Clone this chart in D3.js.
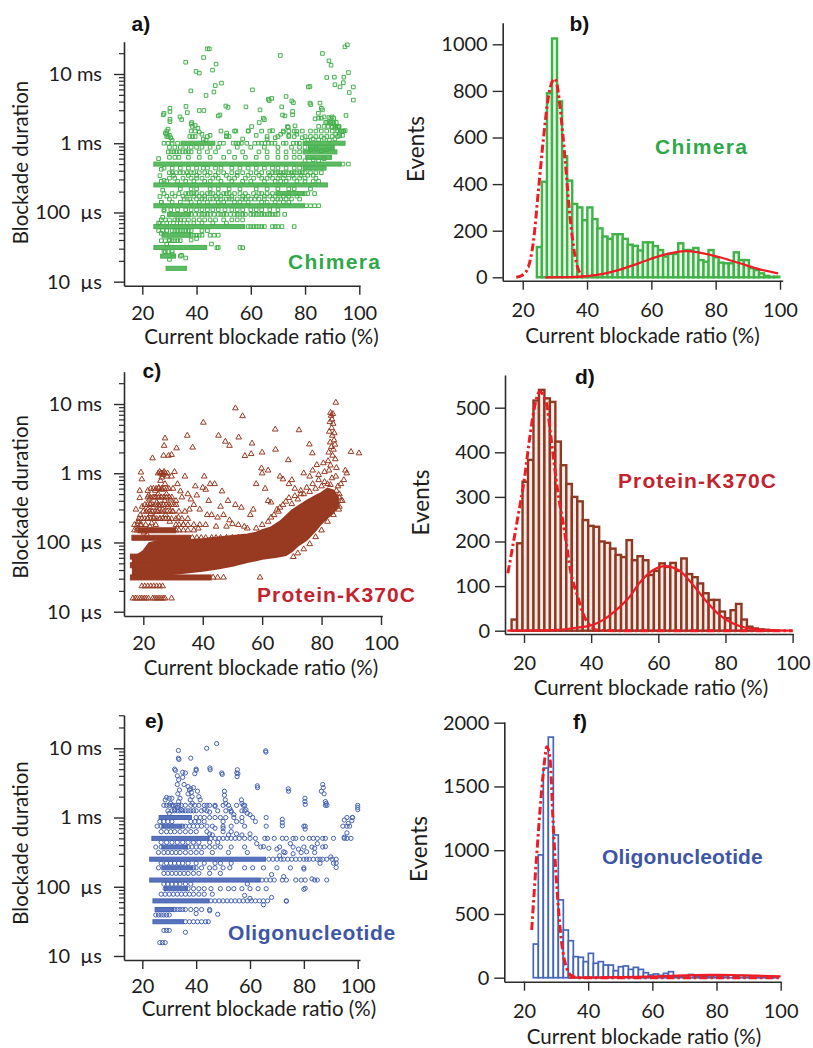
<!DOCTYPE html>
<html lang="en">
<head>
<meta charset="utf-8">
<title>Blockade duration and current blockade ratio</title>
<script src="https://d3js.org/d3.v7.min.js"></script>
<style>
  body { margin: 0; background: white; }
  svg { display: block; background: white; }
  .tick-label { font-family: Lato, sans-serif; font-size: 20px; fill: #1c1c1c; }
  .axis-title { font-family: Lato, sans-serif; font-size: 20.5px; fill: #1c1c1c; }
  .panel-letter { font-family: "Liberation Sans", Arial, sans-serif; font-weight: bold; font-size: 21px; fill: #111; }
  .sample { font-family: "Liberation Sans", Arial, sans-serif; font-weight: bold; font-size: 21px; }
</style>
</head>
<body>
<script>
// ---------- shared tick labels ----------
var xTickValues = [20, 40, 60, 80, 100];
var logTickValues = [10, 100, 1000, 10000];
var logTickLabels = ["10\u00a0 µs", "100\u00a0 µs", "1 ms", "10 ms"];

// ---------- a) Chimera scatter (duration in µs) ----------
var chimeraRuns = [
  [1000, 35, 46], [1000, 80, 94], [875, 82, 90], [750, 80, 91], [625, 81, 89], [500, 25, 92.5], [437.5, 80, 87],
  [250, 25, 87.5], [187.5, 70, 79], [125, 25, 79], [93.75, 30, 37], [62.5, 25, 57], [46.9, 28, 37],
  [31.25, 25, 43], [23.4, 27.5, 31.5], [15.6, 29.5, 35.5]
];
var chimeraRows = [
  [2000, [88, 89.5, 90.5, 91.5]],
  [1750, [38.5, 85, 87, 88.5, 90, 91, 92.5]],
  [1500, [29, 38, 39.5, 49, 54, 59, 64, 67, 72, 74, 76, 79, 82, 84, 86, 88, 90, 92, 94]],
  [1250, [29, 29.5, 37.5, 38.5, 39.5, 44, 52, 66, 70, 74, 76, 80, 82, 84, 86, 88, 90, 92]],
  [1000, [28, 29.5, 31, 33, 48.6, 49.9, 53.5, 54.5, 55.5, 56.5, 58.5, 61.5, 62.8, 64, 65.2, 66.5, 67.7, 68.9, 72, 73, 75.7, 76.9, 77.9]],
  [875, [30, 32, 34, 36, 38, 40, 42, 45, 48, 55, 60, 65, 70, 75, 78, 80]],
  [750, [29.6, 30.6, 31.6, 32.6, 33.6, 35, 36, 37, 38, 41, 44, 47, 52, 57, 63, 66, 70, 73, 76, 78]],
  [625, [30, 32, 33.5, 37, 41, 45, 50, 54, 58, 62, 66, 70, 73, 76, 78]],
  [500, [94, 96]],
  [437.5, [28, 31, 34, 37, 40, 42.5, 44, 47, 49, 53, 56, 59, 62, 65, 68, 70, 73, 76, 78]],
  [375, [30, 31, 32.5, 34, 35, 36.5, 38, 39, 41, 43, 45, 48, 50, 53, 55, 57, 60, 62, 64, 66.5, 68, 69, 70, 71, 72, 73, 74, 75, 76, 77, 78, 79, 80, 82, 84, 86]],
  [343.75, [31.5, 37, 40, 44, 47, 51, 55, 59, 63, 67, 70.5, 72.5, 75.5, 78.5, 81, 83]],
  [312.5, [30, 32, 35, 38, 40, 42, 46, 48, 52, 54, 58, 61, 64, 66, 68, 70, 72, 74, 76, 78, 80, 84]],
  [281.25, [27, 29, 33, 36, 39, 43, 45, 49, 53, 57, 60, 65, 69, 71, 73, 77, 80, 83, 85]],
  [218.75, [34, 38, 40, 45, 48, 52, 56, 62, 66, 70, 74, 76, 82]],
  [187.5, [28, 31, 33.5, 36, 37, 38, 39, 40, 42, 44, 45, 46, 48, 50, 51, 52, 54, 56, 58, 61, 63, 64, 66, 68, 80, 81, 83.5]],
  [171.9, [29, 32, 35, 39, 41, 43, 47, 49, 53, 57, 59, 62, 65, 67, 69, 72, 74, 77]],
  [156.25, [30, 35.5, 36.5, 37.5, 40, 42, 43, 45, 46, 47.5, 49, 51, 52, 53, 55, 57, 58, 60, 61.5, 63, 65, 68, 70, 71, 73, 75, 78]],
  [140.6, [27, 31, 34, 38, 41, 44, 48, 50, 54, 56, 59, 64, 66, 69, 72, 74]],
  [125, [80.5, 82, 83.5, 85]],
  [109.4, [28, 30.5, 33, 36, 38, 40, 42, 44, 46, 48, 50.5, 53, 55, 57, 60, 62, 64, 67, 70]],
  [93.75, [38, 39.5, 41, 42, 43, 44, 45, 46.5, 48, 49, 50, 51, 52.5, 54, 55, 56, 57, 58, 60, 61, 62, 63, 64, 65, 66, 67, 68, 69, 70, 72.5]],
  [78.1, [27, 28.5, 30, 32, 33, 34, 35.5, 37, 39, 41, 43, 45, 47, 50, 53, 55, 57]],
  [70.3, [26, 29, 31.5, 34, 36.5, 39, 42, 46, 51]],
  [62.5, [59, 60, 61, 62, 63, 64, 65, 68, 69, 70, 71.5, 76]],
  [54.7, [26, 27.5, 29, 31, 32, 33, 34, 35, 36, 37, 38, 42, 44]],
  [46.9, [38, 39, 40, 41, 42, 45, 46.5, 48]],
  [39.1, [27, 28.5, 30, 31, 32, 33, 34]],
  [31.25, [48, 56]],
  [27.3, [28, 29.5, 31]],
  [23.4, [34]]
];
var chimeraPoints = [
  [44, 23100], [44.7, 23100], [36, 14800], [42.6, 17300], [39.8, 10900], [41, 10300], [45.9, 11400], [47.2, 13900],
  [37.9, 5700], [43.5, 4900], [46.4, 5500], [46.9, 6800], [49.2, 7400], [70.9, 18500], [86.4, 19800], [88.8, 15500],
  [89.6, 13400], [94.7, 24700], [95.6, 26400], [96, 10500], [94.3, 9000], [90.8, 9000], [88, 8900], [94.1, 7500],
  [92.9, 6500], [96.3, 5400], [97.8, 6500], [97.8, 4200], [60.6, 5900], [81.8, 6600], [81.2, 6500], [91, 7000],
  [27.7, 2570], [28, 2700], [30.2, 3200], [30.2, 2870], [30.2, 2220], [30.2, 2050], [34.5, 2200], [33.9, 2400],
  [36.1, 3400], [36.6, 2770], [38.2, 1990], [41, 2970], [42.7, 2970], [48, 2480], [48.6, 2560], [51.1, 1400],
  [51.1, 1280], [50.8, 3450], [51.6, 3300], [58.2, 3350], [59.1, 1510], [60.3, 1740], [63.4, 3030], [63.1, 1990],
  [64.6, 2300], [65, 2190], [66.5, 4330], [66.8, 4140], [67.7, 4440], [68, 1520], [71.4, 3350], [71.7, 2560],
  [72.6, 2480], [73, 4730], [73.5, 1740], [73.8, 1700], [75.1, 4080], [75.7, 3860], [75.4, 2870], [75.4, 2570],
  [76.3, 1780], [76.9, 1480], [81.8, 3800], [82.1, 3620], [83.7, 2250], [84.9, 2710], [85.5, 3800], [86, 3200],
  [86.4, 3030], [85, 2300], [86, 2300], [87, 2400], [88.8, 2350], [89.5, 2300], [90, 2400], [90.6, 2300],
  [87.6, 2000], [88.8, 1950], [89.6, 2000], [90.6, 1900], [90, 1700], [91.3, 1650], [91.9, 1700], [92.5, 1720],
  [93, 1500], [93.6, 1480], [94.2, 1500], [94.8, 1520], [91.3, 1350], [93.8, 1300], [92.8, 1280], [95.1, 2520],
  [28.5, 1400], [29, 1350], [29.5, 1600], [30, 1300], [30.5, 1200], [31, 1100], [38, 1900], [39.5, 1800],
  [40.5, 1650], [41, 1450], [42, 1350], [42.5, 1150], [43.5, 1100], [45, 1300], [51, 1250], [54.5, 1500],
  [57, 1150], [62, 1300], [66, 1150], [69, 1200], [71, 1350], [72, 1450], [74, 1300], [77, 1350], [79, 1200],
  [26, 600], [26.5, 340], [27, 420], [28, 290], [27.5, 210], [26.5, 170], [27, 140], [28, 105], [27.5, 85],
  [26.5, 70], [29, 55], [27, 50], [30, 40], [29, 35], [28.5, 27], [30, 21], [31, 25], [34.5, 24], [36, 22],
  [38, 40], [40, 42], [45.5, 35], [47.5, 31], [57, 31], [81, 1100], [83, 1150], [85, 1120], [87, 1180], [89, 1100],
  [91, 1150], [82, 800], [84, 820], [86, 780], [88, 800], [90, 830], [80, 560], [83, 580], [85, 560], [87, 600]
];

// ---------- b) Chimera histogram ----------
var chimeraBinStart = 24.4, chimeraBinWidth = 1.57;
var chimeraBins = [130, 410, 790, 1025, 755, 520, 415, 315, 300, 245, 300, 250, 210, 175, 165, 185, 185, 165, 140, 135,
  115, 150, 150, 134, 117, 89, 100, 100, 146, 117, 117, 126, 74, 67, 117, 86, 63, 60, 60, 107, 74, 74, 39, 31, 17, 6, 2, 3];
var chimeraFitFirst = [[18, 0], [20, 10], [21.7, 43], [23.3, 150], [24.9, 375], [26.4, 589], [28, 775], [29, 835],
  [30, 852], [31, 800], [31.6, 732], [33.2, 503], [34.7, 260], [36.3, 88], [37.8, 17], [39, 0]];
var chimeraFitSecond = [[27, 0], [35, 1], [40, 5], [45, 15], [50, 32], [54, 50], [58, 70], [62.7, 92], [67, 106],
  [71, 112], [75, 106], [81.3, 86], [87.5, 60], [93.7, 34], [99.4, 17]];

// ---------- c) Protein-K370C scatter ----------
var k370CoreUpper = [[16.5, 62], [18, 66], [20, 75], [22, 98], [25, 105], [30, 105], [35, 108], [40, 112], [45, 118],
  [50, 124], [55, 130], [58, 138], [60, 150], [63, 165], [66, 200], [68, 240], [70, 290], [72, 330], [75, 400],
  [78, 470], [80, 520], [82, 600], [84, 560], [85.5, 450]];
var k370CoreLower = [[16.5, 31], [20, 31], [25, 33], [30, 35], [40, 39], [45, 42], [50, 46], [55, 52], [60, 58],
  [65, 62], [68, 66], [70, 75], [72, 90], [75, 110], [78, 150], [80, 190], [82, 230], [84, 270], [85.5, 330]];
var k370Runs = [[31.25, 16.5, 42], [46.9, 16.5, 24], [62.5, 16.5, 21], [117, 17, 35], [150, 19, 30]];
var k370Rows = [
  [1000, [25, 25.8, 26.6, 27.4, 28.2]],
  [600, [22.5, 23.4, 24.3, 25.2, 26.1, 27, 27.9]],
  [450, [21.5, 22.4, 23.3, 24.2, 25.1, 26, 26.9, 27.8, 28.7, 29.6]],
  [350, [20.5, 21.4, 22.3, 23.2, 24.1, 25, 25.9, 26.8, 27.7, 28.6, 29.5, 31]],
  [280, [20, 21, 22, 23, 24, 25, 26, 27, 28, 29, 30, 32, 34]],
  [220, [18.5, 19.5, 20.5, 21.5, 22.5, 23.5, 24.5, 25.5, 26.5, 27.5, 28.5, 29.5, 31, 33, 35]],
  [180, [17, 18, 19, 31, 32, 33.5, 35, 37, 39, 41]],
  [150, [17, 18, 31, 32, 33.5, 35, 37]],
  [117, [36.5, 38, 39.5, 41, 43, 44.5, 46, 48, 50, 52, 54, 56]],
  [31.25, [43.5, 45, 47, 59.3]],
  [23.4, [19.5, 20.5, 21.5, 22.5, 23.5, 24.5, 25.5, 26.5]],
  [15.6, [16.5, 17.3, 18, 18.8, 19.5, 20.3, 21, 21.7, 23.2, 23.9, 24.6, 25.3, 26, 26.7, 27.3, 29.5]]
];
var k370Points = [
  [17.5, 300], [18, 160], [18.2, 200], [18.8, 440], [18.8, 560], [19.2, 1030], [19.5, 820], [19.6, 330], [19, 250],
  [19.4, 180], [20.2, 140], [20.8, 180], [21.2, 130], [21.4, 220], [21.5, 560], [21.6, 300], [21.8, 480], [22, 420],
  [22.2, 170], [22.3, 360], [22.5, 260], [22.8, 190], [23, 150], [23.1, 1650], [23.3, 320], [23.6, 230], [23.8, 450],
  [24, 560], [24.2, 180], [24.5, 380], [24.7, 280], [25, 500], [25.2, 620], [25.5, 1050], [25.4, 340], [25.7, 220],
  [25.8, 780], [26, 1000], [26.1, 450], [26.3, 580], [26.5, 950], [26.2, 870], [26.6, 300], [26.8, 1800], [27, 1050],
  [27, 2500], [27.3, 3200], [27.3, 700], [27.2, 400], [27.5, 250], [27.8, 500], [28, 900], [28.3, 330], [28.5, 1800],
  [28.6, 600], [28.9, 200], [29.2, 420], [29.5, 1850], [29.5, 900], [29.8, 280], [30, 600], [30.3, 350], [30.5, 1050],
  [31, 400], [31.2, 2300], [31.5, 700], [31.8, 230], [32.5, 550], [33, 450], [33.5, 180], [34, 900], [34.8, 3500],
  [35, 500], [35.5, 300], [36, 420], [36.6, 2360], [37, 350], [37.5, 650], [38, 480], [38.5, 160], [39, 300],
  [40, 620], [40.2, 5400], [40.5, 900], [41, 580], [41.5, 250], [42, 400], [42.5, 700], [43, 250], [44, 700],
  [44.5, 170], [45, 230], [45.3, 3500], [46, 330], [46.5, 550], [47, 250], [47.6, 2870], [48, 170], [48.5, 400],
  [49, 2500], [49, 210], [50, 185], [51, 8700], [51, 350], [52, 180], [52.1, 3300], [53, 320], [53.4, 6700],
  [54, 170], [54.2, 1780], [55, 160], [56, 250], [56.3, 1900], [56.6, 2700], [57, 300], [58, 700], [59.8, 1180],
  [60, 2000], [60, 1000], [61, 600], [62, 1100], [62, 400], [63, 380], [64.4, 4300], [64.5, 2200], [65, 300],
  [66, 900], [67, 820], [68.8, 1550], [69, 700], [70, 800], [71, 600], [72.4, 4200], [73, 500], [74, 1000],
  [75.9, 2620], [76, 900], [76.9, 1950], [77, 1100], [78.4, 1320], [79, 950], [80.6, 1400], [81, 1050],
  [58, 160], [60, 180], [62, 200], [63, 230], [64, 250], [65.5, 280], [66, 320], [67, 350], [68, 390], [69, 440],
  [70, 360], [71, 470], [72, 420], [73, 560], [74, 500], [75, 620], [76, 540], [77, 700], [78, 600], [79, 800],
  [80, 650], [81, 750], [82, 700], [83, 680], [85, 560], [86, 450],
  [70.5, 62], [72, 70], [74, 80], [76, 95], [78, 120], [80, 150], [82, 200], [84, 250], [86, 330],
  [84.8, 10500], [83, 7500], [83.2, 6800], [83.5, 6000], [83.8, 7200], [82.8, 5500], [83.4, 4500], [82.6, 4000],
  [83.6, 3500], [84.2, 3000], [82.9, 2800], [83.3, 2400], [84, 2200], [82.4, 2000], [83.7, 1800], [84.6, 1600],
  [82.2, 1500], [83, 1300], [85, 1200], [82.5, 1100], [84.8, 900], [83.5, 850], [85.5, 650], [86, 500], [86.5, 400],
  [85.2, 350], [84, 420], [85.8, 300], [84.3, 3800], [83.9, 5200], [84.5, 2600],
  [89.9, 2040], [92.6, 1950], [88, 1100], [88.5, 1000], [87.5, 800], [86.5, 700], [87, 400]
];

// ---------- d) Protein-K370C histogram ----------
var k370BinStart = 16.3, k370BinWidth = 1.63;
var k370Bins = [25, 196, 334, 383, 516, 540, 521, 513, 424, 371, 329, 300, 290, 248, 235, 233, 200, 197, 184, 170,
  165, 203, 158, 167, 158, 125, 134, 151, 143, 152, 134, 162, 127, 120, 106, 84, 69, 69, 43, 28, 46, 60, 25, 9, 5, 3, 2, 1];
var k370FitFirst = [[15.2, 129], [18.2, 256], [20.2, 345], [21.6, 427], [23.6, 517], [24.6, 536], [26.6, 513],
  [28, 435], [30, 315], [32, 226], [34, 129], [36, 76], [38, 31], [40, 9], [42, 1], [50, 0], [100, 0]];
var k370FitSecond = [[15, 0], [30, 2], [36, 7], [40, 12], [44, 26], [48, 50], [51, 72], [54.5, 108], [58.5, 136],
  [62, 145], [66.4, 134], [70.4, 102], [74.4, 65], [78.3, 35], [82.3, 16], [86.3, 6], [90.3, 2], [100, 0]];

// ---------- e) Oligonucleotide scatter ----------
var oligoRuns = [[1000, 27, 37.5], [750, 28, 34], [500, 24.3, 44], [375, 28, 36], [250, 23.5, 65], [187.5, 28, 38],
  [125, 23.5, 63], [93.75, 29, 36], [62.5, 24.7, 44], [46.9, 25.5, 31], [31.25, 24.7, 34.6]];
var oligoRows = [
  [1500, [28, 29, 30, 31, 32.5, 33.5, 34.5, 36, 38, 39.5, 41, 43, 45, 47, 50, 52, 55, 58, 88, 100]],
  [1250, [31, 32, 33, 34, 35, 36, 37, 38, 39, 40, 42, 44, 51, 53, 57, 58]],
  [1000, [40, 41.5, 43, 45, 47, 49, 51, 54, 57, 66, 96, 98]],
  [875, [26.5, 28, 29.5, 31, 38, 39.5, 41, 43, 50, 55, 57, 62]],
  [750, [25.5, 27, 35, 36, 37.5, 39, 40.5, 42, 44, 46, 50, 53, 58, 66, 80, 94.5, 96]],
  [625, [27, 29, 30.5, 32, 34, 36, 38, 40, 44, 50, 53]],
  [500, [45.5, 47, 48.5, 50, 51.5, 53, 54.5, 56, 58, 60, 65.5, 66.5, 69, 72, 73.5, 76, 77, 79.5, 82, 83.5, 85, 87, 88, 91, 95, 96, 97.5]],
  [437.5, [27, 29, 31, 33, 35, 37, 39, 41, 45, 48]],
  [375, [25, 27, 37, 38.5, 40, 41.5, 43, 45, 47, 49, 53, 58, 64, 71, 76, 80, 83, 87]],
  [312.5, [26, 28, 29.5, 31, 32.5, 34, 36, 38, 40, 42, 46, 52, 59, 73, 79, 84]],
  [250, [67, 68.5, 70, 71.5, 72.5, 74, 75.5, 77, 78.5, 80, 81, 82, 83.5, 85, 86, 87, 88.5, 90.5, 92]],
  [218.75, [27, 29, 30.5, 32, 33.5, 35, 37, 40, 43, 47, 49, 53, 86, 91]],
  [187.5, [26, 39, 40, 42, 45, 47, 50, 52.5, 58, 61, 65, 70, 75, 80]],
  [156.25, [28, 29.5, 31, 32.5, 34, 35.5, 37, 39, 41, 45, 49]],
  [125, [64.5, 66, 67.5, 69, 72, 73.5, 77, 79, 80.5, 84, 85, 88.5]],
  [109.4, [28, 29.5, 31, 32.5, 34, 36, 38]],
  [93.75, [28.5, 37, 39, 41, 43, 45.5, 49, 52, 54, 57, 60, 63, 66]],
  [78.1, [27, 28.5, 30, 31.5, 33, 34.5, 36, 37.5, 39, 41, 43, 46]],
  [62.5, [45.5, 47, 48.5, 50, 51.5, 53, 54.5, 56, 57.5, 59, 60.5, 62, 63.5, 65, 66.5, 73.5]],
  [46.9, [32, 33, 34, 35, 36, 38, 40, 42, 45]],
  [39.1, [25, 26, 27, 28, 29, 30]],
  [31.25, [36, 37.5, 39, 40.5, 42, 43.5, 44.5]],
  [23.4, [28, 29, 30]],
  [15.6, [26.5, 27.5, 28.5]]
];
var oligoPoints = [
  [33.4, 9300], [47.6, 11700], [43.9, 10000], [65.8, 9200], [65.9, 8800], [33.4, 7200], [33.6, 6900], [38, 7200],
  [32, 5000], [32.3, 4800], [45.1, 5200], [45.2, 4900], [49.5, 4400], [49.7, 4200], [55.3, 4900], [55.1, 4400],
  [62.7, 2870], [62.8, 2700], [74.2, 2600], [74.3, 2400], [87, 3000], [87.2, 2700], [86.5, 2400], [87.5, 2200],
  [88, 1700], [88.3, 1600], [88.6, 1500], [80.4, 1900], [80.4, 1700], [80.5, 1550], [72, 940], [72, 840], [72, 760],
  [80.5, 750], [80.5, 680], [98.1, 1000], [97.8, 900], [100, 1400], [100, 1300], [95, 920], [96.5, 820], [97, 750],
  [96, 600], [95, 520], [80.5, 95],
  [33, 4000], [33.5, 3500], [33, 3000], [33.8, 2500], [33.2, 2200], [34, 1900], [33.5, 1700], [33, 1400], [34.5, 1300],
  [35, 4500], [35, 3800], [35.5, 3000], [36, 4400], [37, 2800], [37.5, 2500], [37, 2200], [38, 2600], [38.2, 2300],
  [38.5, 2000], [37.8, 1800], [38.6, 1600], [39, 2700], [39.5, 4300], [40, 5000], [40, 4800], [40.5, 2400], [41, 2000],
  [41.5, 1800], [31, 1900], [30, 1900], [29, 1950], [28.5, 1800], [30.5, 1600], [31.5, 1500], [32, 1300], [29.5, 1250],
  [30, 1150], [43, 1300], [44, 1500], [45, 1200], [47, 1450], [48, 1250], [50.5, 2400], [50.5, 2100], [50.8, 1800],
  [51, 1600], [52.5, 1350], [53, 1200], [54, 1100], [55.5, 4300], [55.2, 3900], [56.8, 1800], [57, 1600], [57.5, 1500],
  [58.5, 1300], [59, 1150], [60, 1100], [61, 1000], [45, 580], [46, 560], [47, 700], [50, 700], [52, 560], [55, 580],
  [57, 560], [60, 580], [62, 500], [62.5, 420], [65, 380], [67, 360], [70, 350], [72.5, 320], [75, 420], [78, 350],
  [81, 320], [84, 360], [85, 420], [88, 380], [90, 270], [92, 220], [92, 190], [80, 180], [76, 300], [71, 280],
  [68, 150], [72.5, 140], [83, 130], [80, 92], [73.5, 62], [65, 55], [59, 110], [58, 75], [60, 68], [68, 70],
  [45, 45], [48, 40], [36, 22], [40, 41]
];

// ---------- f) Oligonucleotide histogram ----------
var oligoBinStart = 22.9, oligoBinWidth = 1.56;
var oligoBins = [264, 963, 1644, 1887, 1120, 610, 374, 290, 165, 160, 126, 191, 113, 126, 99, 99, 55, 86, 92, 65,
  81, 65, 39, 21, 29, 18, 34, 47, 13, 8, 5, 25, 10, 8, 12, 5, 15, 6, 5, 22, 8, 18, 4, 3, 2, 2, 2, 1, 1];
var oligoFitFirst = [[22.4, 374], [23.9, 940], [25.5, 1470], [26.5, 1720], [27.1, 1812], [28.1, 1720], [29.1, 1200],
  [30.2, 727], [31.7, 282], [33.3, 73], [34.8, 16], [37, 0], [100, 0]];
var oligoFitSecond = [[34, 0], [45, 2], [55, 6], [62, 11], [70, 18], [78, 22], [85, 21], [92, 16], [100, 10]];

// ---------- drawing ----------
var svg = d3.select("body").append("svg").attr("width", 813).attr("height", 1048);

function styleAxis(g) {
  g.attr("font-family", null).attr("font-size", null);
  g.selectAll("path.domain").attr("stroke", "#2b2b2b").attr("stroke-width", 1.6);
  g.selectAll(".tick line").attr("stroke", "#2b2b2b").attr("stroke-width", 1.4);
  g.selectAll(".tick text").attr("class", "tick-label").attr("fill", null);
}

function addTexts(p) {
  svg.append("text").attr("class", "panel-letter").attr("x", p.letter[1]).attr("y", p.letter[2]).text(p.letter[0]);
  svg.append("text").attr("class", "sample").attr("fill", p.textColor)
    .attr("x", p.sample[1]).attr("y", p.sample[2]).attr("letter-spacing", p.sample[3])
    .text(p.sample[0]);
  svg.append("text").attr("class", "axis-title").attr("text-anchor", "middle")
    .attr("x", p.xTitle[0]).attr("y", p.xTitle[1]).text("Current blockade ratio (%)");
  svg.append("text").attr("class", "axis-title").attr("text-anchor", "middle")
    .style("font-size", p.yTitle[3] + "px")
    .attr("transform", `translate(${p.yTitle[1]},${p.yTitle[2]}) rotate(-90)`).text(p.yTitle[0]);
}

function drawScatter(p) {
  var g = svg.append("g");
  var x = d3.scaleLinear().domain(p.xDom).range([p.left, p.right]);
  var y = d3.scaleLog().domain(p.yDom).range([p.bottom, p.top]);

  if (p.coreUpper) {
    var outline = p.coreUpper.concat(p.coreLower.slice().reverse());
    g.append("path")
      .attr("d", d3.line().x(d => x(d[0])).y(d => y(d[1])).curve(d3.curveLinearClosed)(outline))
      .attr("fill", p.color).attr("stroke", p.color).attr("stroke-width", 2);
  }

  g.selectAll("rect.run").data(p.runs).join("rect").attr("class", "run")
    .attr("x", d => x(d[1]) - p.size / 2)
    .attr("width", d => x(d[2]) - x(d[1]) + p.size)
    .attr("y", d => y(d[0]) - p.size / 2)
    .attr("height", p.size)
    .attr("fill", p.runFill).attr("stroke", p.color).attr("stroke-width", 1);

  var pts = p.points.concat(p.rows.flatMap(r => r[1].map(v => [v, r[0]])));
  var sym = d3.symbol().type(p.symbol).size(p.symSize);
  g.selectAll("path.pt").data(pts).join("path").attr("class", "pt")
    .attr("transform", d => `translate(${x(d[0])},${y(d[1])})`)
    .attr("d", sym)
    .attr("fill", "none").attr("stroke", p.color).attr("stroke-width", 1);

  var gx = g.append("g").attr("transform", `translate(0,${p.bottom})`)
    .call(d3.axisBottom(x).tickValues(xTickValues).tickSize(9).tickSizeOuter(0));
  styleAxis(gx);
  gx.selectAll(".tick text").attr("y", p.xLabelOffset).attr("dy", 0);

  var minors = [];
  [10, 100, 1000, 10000].forEach(function (dec) {
    d3.range(2, 10).forEach(function (m) { if (dec * m < p.yDom[1]) minors.push(dec * m); });
  });
  var gm = g.append("g").attr("transform", `translate(${p.left},0)`)
    .call(d3.axisLeft(y).tickValues(minors).tickSize(5).tickFormat(""));
  gm.select("path.domain").remove();
  gm.selectAll(".tick line").attr("stroke", "#2b2b2b").attr("stroke-width", 1.2);

  var gy = g.append("g").attr("transform", `translate(${p.left},0)`)
    .call(d3.axisLeft(y).tickValues(logTickValues).tickSize(10).tickSizeOuter(0).tickPadding(12)
      .tickFormat((d, i) => logTickLabels[i]));
  styleAxis(gy);

  addTexts(p);
}

function drawHist(p) {
  var g = svg.append("g");
  var x = d3.scaleLinear().domain(p.xDom).range([p.left, p.right]);
  var y = d3.scaleLinear().domain(p.yDom).range([p.bottom, p.top]);

  var bars = p.bins.map((v, i) => ({ x0: p.binStart + i * p.binWidth, v: v }));
  g.selectAll("rect.bar").data(bars).join("rect").attr("class", "bar")
    .attr("x", d => x(d.x0))
    .attr("width", d => x(d.x0 + p.binWidth) - x(d.x0))
    .attr("y", d => y(d.v))
    .attr("height", d => y(0) - y(d.v))
    .attr("fill", p.barFill).attr("stroke", p.color).attr("stroke-width", p.barStroke);

  var line = d3.line().x(d => x(d[0])).y(d => y(d[1])).curve(d3.curveMonotoneX);
  g.append("path").attr("d", line(p.fitSecond)).attr("fill", "none")
    .attr("stroke", "#ee1d25").attr("stroke-width", 2.2);
  g.append("path").attr("d", line(p.fitFirst)).attr("fill", "none")
    .attr("stroke", "#ee1d25").attr("stroke-width", 3).attr("stroke-dasharray", "8,3,2.5,3");

  var gx = g.append("g").attr("transform", `translate(0,${p.bottom})`)
    .call(d3.axisBottom(x).tickValues(xTickValues).tickSize(9).tickSizeOuter(0));
  styleAxis(gx);
  gx.selectAll(".tick text").attr("y", p.xLabelOffset).attr("dy", 0);

  var gy = g.append("g").attr("transform", `translate(${p.left},0)`)
    .call(d3.axisLeft(y).tickValues(p.yTicks).tickSize(10).tickSizeOuter(0).tickPadding(5).tickFormat(d3.format("d")));
  styleAxis(gy);

  addTexts(p);
}

drawScatter({
  left: 124, right: 360, top: 41.7, bottom: 285.7, xDom: [13.25, 100.26], yDom: [8.75, 29290],
  runs: chimeraRuns, rows: chimeraRows, points: chimeraPoints,
  color: "#46b04e", runFill: "#5cbb63", textColor: "#2fa84a",
  symbol: d3.symbolSquare, symSize: 13, size: 4, xLabelOffset: 34,
  letter: ["a)", 131.5, 31], sample: ["Chimera", 288, 269, 1.3],
  xTitle: [261.5, 344], yTitle: ["Blockade duration", 28, 162.5, 20.5]
});

drawHist({
  left: 502.7, right: 782.7, top: 22.7, bottom: 280.7, xDom: [13.78, 100.84], yDom: [-14.6, 1092.7],
  yTicks: [0, 200, 400, 600, 800, 1000],
  bins: chimeraBins, binStart: chimeraBinStart, binWidth: chimeraBinWidth,
  fitFirst: chimeraFitFirst, fitSecond: chimeraFitSecond,
  color: "#3fb248", barFill: "#e8f6e8", barStroke: 2.4, textColor: "#2fa84a", xLabelOffset: 36,
  letter: ["b)", 569.5, 31], sample: ["Chimera", 655, 154, 1.3],
  xTitle: [642.5, 343], yTitle: ["Events", 424, 149, 22.5]
});

drawScatter({
  left: 124, right: 382.3, top: 371.7, bottom: 616, xDom: [13.5, 100.44], yDom: [8.67, 29290],
  runs: k370Runs, rows: k370Rows, points: k370Points,
  coreUpper: k370CoreUpper, coreLower: k370CoreLower,
  color: "#983a22", runFill: "#983a22", textColor: "#c3232e",
  symbol: d3.symbolTriangle, symSize: 14, size: 5, xLabelOffset: 34,
  letter: ["c)", 142.5, 378], sample: ["Protein-K370C", 257, 601.5, 1.1],
  xTitle: [261, 675], yTitle: ["Blockade duration", 28, 496.7, 20.5]
});

drawHist({
  left: 505, right: 793.3, top: 375, bottom: 634, xDom: [14.34, 100.2], yDom: [-7.4, 573.3],
  yTicks: [0, 100, 200, 300, 400, 500],
  bins: k370Bins, binStart: k370BinStart, binWidth: k370BinWidth,
  fitFirst: k370FitFirst, fitSecond: k370FitSecond,
  color: "#8f3822", barFill: "#f6ebe7", barStroke: 2.4, textColor: "#c3232e", xLabelOffset: 36,
  letter: ["d)", 575, 384], sample: ["Protein-K370C", 618, 488, 1.1],
  xTitle: [651, 695], yTitle: ["Events", 429, 502.5, 22.5]
});

drawScatter({
  left: 124, right: 360, top: 715, bottom: 960, xDom: [13.2, 100.85], yDom: [8.75, 30270],
  runs: oligoRuns, rows: oligoRows, points: oligoPoints,
  color: "#4763b3", runFill: "#5a73bd", textColor: "#3e56a6",
  symbol: d3.symbolCircle, symSize: 14, size: 4, xLabelOffset: 33,
  letter: ["e)", 145, 728], sample: ["Oligonucleotide", 228, 940, 0.6],
  xTitle: [259, 1016], yTitle: ["Blockade duration", 28, 843, 20.5]
});

drawHist({
  left: 504.3, right: 781, top: 721.7, bottom: 981.7, xDom: [13.86, 100.1], yDom: [-31.4, 2007.8],
  yTicks: [0, 500, 1000, 1500, 2000],
  bins: oligoBins, binStart: oligoBinStart, binWidth: oligoBinWidth,
  fitFirst: oligoFitFirst, fitSecond: oligoFitSecond,
  color: "#4565b8", barFill: "#ffffff", barStroke: 1.7, textColor: "#3e56a6", xLabelOffset: 36,
  letter: ["f)", 573, 729], sample: ["Oligonucleotide", 602, 864, 0.15],
  xTitle: [644, 1044], yTitle: ["Events", 427, 849, 22.5]
});
</script>
</body>
</html>
